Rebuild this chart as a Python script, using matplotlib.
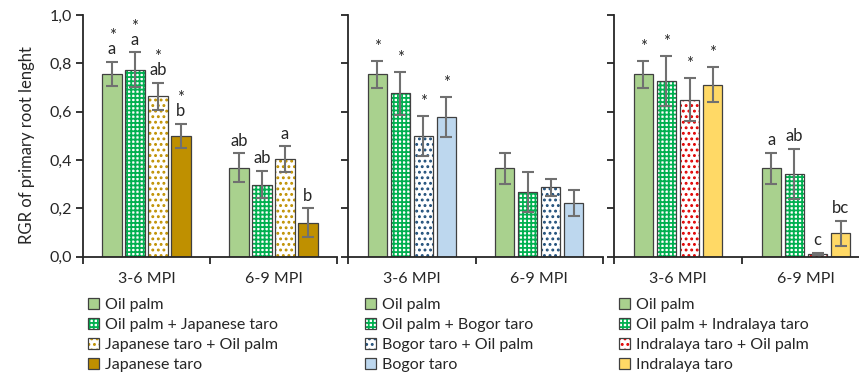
import matplotlib
matplotlib.use('Agg')
import matplotlib.pyplot as plt
import numpy as np

plt.rcParams['font.family'] = ['Lato', 'DejaVu Sans']
plt.rcParams['hatch.linewidth'] = 1.3

# data
cats = ['3-6 MPI', '6-9 MPI']

names1 = ['Oil palm', 'Oil palm + Japanese taro', 'Japanese taro + Oil palm', 'Japanese taro']
vals1 = [[0.757, 0.368], [0.773, 0.298], [0.663, 0.403], [0.500, 0.140]]
errs1 = [[0.050, 0.060], [0.072, 0.057], [0.056, 0.054], [0.050, 0.060]]
lett1 = [['a', 'ab'], ['a', 'ab'], ['ab', 'a'], ['b', 'b']]
star1 = [[1, 0], [1, 0], [1, 0], [1, 0]]

names2 = ['Oil palm', 'Oil palm + Bogor taro', 'Bogor taro + Oil palm', 'Bogor taro']
vals2 = [[0.755, 0.366], [0.676, 0.266], [0.499, 0.287], [0.577, 0.222]]
errs2 = [[0.055, 0.064], [0.089, 0.083], [0.082, 0.034], [0.083, 0.055]]
lett2 = [['', ''], ['', ''], ['', ''], ['', '']]
star2 = [[1, 0], [1, 0], [1, 0], [1, 0]]

names3 = ['Oil palm', 'Oil palm + Indralaya taro', 'Indralaya taro + Oil palm', 'Indralaya taro']
vals3 = [[0.755, 0.366], [0.727, 0.342], [0.650, 0.011], [0.712, 0.097]]
errs3 = [[0.055, 0.064], [0.102, 0.105], [0.088, 0.004], [0.073, 0.051]]
lett3 = [['', 'a'], ['', 'ab'], ['', 'c'], ['', 'bc']]
star3 = [[1, 0], [1, 0], [1, 0], [1, 0]]

# styles: (face, hatch, hatch colour)
sty1 = [('#A9D18E', '', None), ('white', '++++', '#00B050'), ('white', '...', '#BF9000'), ('#BF9000', '', None)]
sty2 = [('#A9D18E', '', None), ('white', '++++', '#00B050'), ('white', '...', '#1F4E79'), ('#BDD7EE', '', None)]
sty3 = [('#A9D18E', '', None), ('white', '++++', '#00B050'), ('white', '...', '#E00000'), ('#FFD966', '', None)]

W, H = 859, 376
fig = plt.figure(figsize=(W / 100, H / 100), dpi=100)

bot = (H - 256.7) / H
hgt = 241.7 / H
panels = [
    (83, 254, names1, vals1, errs1, lett1, star1, sty1, 88),
    (348, 255, names2, vals2, errs2, lett2, star2, sty2, 365),
    (614, 256, names3, vals3, errs3, lett3, star3, sty3, 619),
]

x = np.array([0.5, 1.5])
step = 0.181
bw = 0.15
edge = '#404040'
txtc = '#262626'

for i, (left, wid, names, vals, errs, lett, star, sty, legx) in enumerate(panels):
    ax = fig.add_axes([left / W, bot, wid / W, hgt])
    handles = []
    for j in range(4):
        xs = x + (j - 1.5) * step
        face, hatch, hc = sty[j]
        fill = ax.bar(xs, vals[j], bw, color=face, hatch=hatch,
                      edgecolor=hc if hc else face, linewidth=0, zorder=2)
        outl = ax.bar(xs, vals[j], bw, fill=False, edgecolor=edge, linewidth=0.9, zorder=3)
        ax.errorbar(xs, vals[j], yerr=errs[j], fmt='none', ecolor='#707070',
                    elinewidth=1.5, capsize=4, capthick=1.5, zorder=4)
        handles.append((fill.patches[0], outl.patches[0]))
        for k in range(2):
            top = vals[j][k] + errs[j][k]
            if lett[j][k] and star[j][k]:
                ax.annotate('*\n' + lett[j][k], (xs[k], top), xytext=(0, 5.5), textcoords='offset points',
                            ha='center', va='baseline', fontsize=12, color=txtc,
                            linespacing=0.78, multialignment='center')
            elif lett[j][k]:
                ax.annotate(lett[j][k], (xs[k], top), xytext=(0, 5.5), textcoords='offset points',
                            ha='center', va='baseline', fontsize=12, color=txtc)
            elif star[j][k]:
                ax.annotate('*', (xs[k], top), xytext=(0, 6.5), textcoords='offset points',
                            ha='center', va='baseline', fontsize=12, color=txtc)

    ax.set_xlim(0, 2)
    ax.set_ylim(0, 1.0)
    ax.set_yticks(np.arange(0, 1.01, 0.2))
    if i == 0:
        ax.set_yticklabels(['0,0', '0,2', '0,4', '0,6', '0,8', '1,0'])
    else:
        ax.set_yticklabels([])
    ax.set_xticks([0, 1, 2])
    ax.set_xticklabels([])
    ax.set_xticks(x, minor=True)
    ax.set_xticklabels(cats, minor=True)
    ax.tick_params(axis='x', which='minor', length=0, pad=11, labelsize=11.5, labelcolor=txtc)
    ax.tick_params(axis='x', which='major', length=5, width=1.3, color=txtc)
    ax.tick_params(axis='y', length=5, width=1.3, color=txtc, labelsize=11.5, labelcolor=txtc, pad=3)
    for s in ['top', 'right']:
        ax.spines[s].set_visible(False)
    for s in ['left', 'bottom']:
        ax.spines[s].set_linewidth(1.3)
        ax.spines[s].set_color(txtc)
    ax.spines['bottom'].set_zorder(5)

    ax.legend(handles, names, loc='upper left', bbox_to_anchor=(legx / W, 1 - 297.5 / H),
              bbox_transform=fig.transFigure, frameon=False, fontsize=11.5,
              borderaxespad=0, borderpad=0, handlelength=0.7, handleheight=0.7,
              handletextpad=0.35, labelspacing=0.37, labelcolor=txtc)

fig.text(27 / W, 1 - 145 / H, 'RGR of primary root lenght', rotation=90,
         ha='center', va='center', fontsize=12, color=txtc)

fig.savefig('out.png', dpi=100)
